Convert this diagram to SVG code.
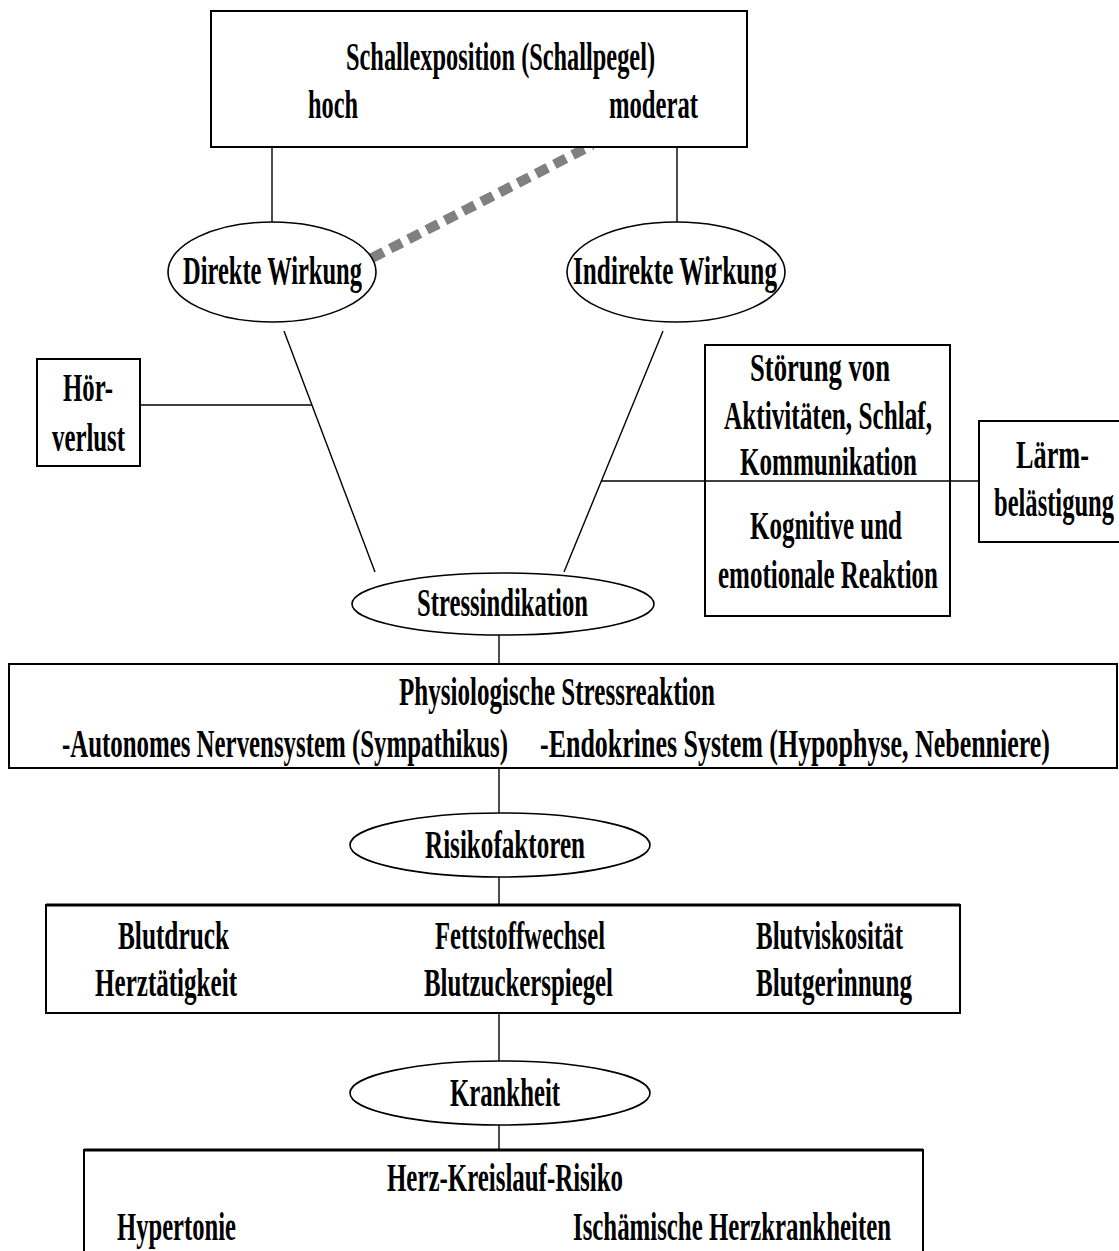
<svg xmlns="http://www.w3.org/2000/svg" width="1119" height="1251" viewBox="0 0 1119 1251">
  <style>
    .box { fill: #ffffff; stroke: #000000; stroke-width: 2; }
    .ell { fill: #ffffff; stroke: #000000; stroke-width: 1.6; }
    .ln { fill: none; stroke: #000000; stroke-width: 1.4; }
    .dash { fill: none; stroke: #808080; stroke-width: 10; stroke-dasharray: 13 7.5; }
    .t { font-family: "Liberation Serif", "Times New Roman", serif; font-weight: bold; font-size: 39px; fill: #000000; text-anchor: middle; }
  </style>
  <rect width="1119" height="1251" fill="#ffffff"/>

  <!-- connectors -->
  <g id="connectors">
    <line class="ln" x1="272" y1="147" x2="272" y2="222"/>
    <line class="ln" x1="677" y1="147" x2="677" y2="222"/>
    <line class="dash" x1="372" y1="258" x2="592" y2="145"/>
    <line class="ln" x1="284" y1="331" x2="375" y2="572"/>
    <line class="ln" x1="663" y1="331" x2="564" y2="572"/>
    <line class="ln" x1="140" y1="405" x2="312" y2="405"/>
    <line class="ln" x1="601" y1="481" x2="979" y2="481"/>
    <line class="ln" x1="499" y1="635" x2="499" y2="664"/>
    <line class="ln" x1="499" y1="768" x2="499" y2="813"/>
    <line class="ln" x1="499" y1="877" x2="499" y2="905"/>
    <line class="ln" x1="499" y1="1013" x2="499" y2="1061"/>
    <line class="ln" x1="499" y1="1125" x2="499" y2="1150"/>
  </g>

  <!-- sound exposure -->
  <g id="schallexposition">
    <rect class="box" x="211" y="11" width="536" height="136"/>
    <text class="t" x="500.5" y="70" textLength="309" lengthAdjust="spacingAndGlyphs">Schallexposition (Schallpegel)</text>
    <text class="t" x="333" y="118" textLength="50" lengthAdjust="spacingAndGlyphs">hoch</text>
    <text class="t" x="653.5" y="118" textLength="89" lengthAdjust="spacingAndGlyphs">moderat</text>
  </g>

  <g id="direkte-wirkung">
    <ellipse class="ell" cx="272" cy="272" rx="104" ry="50"/>
    <text class="t" x="272.5" y="284" textLength="179" lengthAdjust="spacingAndGlyphs">Direkte Wirkung</text>
  </g>

  <g id="indirekte-wirkung">
    <ellipse class="ell" cx="676" cy="272" rx="109" ry="50"/>
    <text class="t" x="675" y="284" textLength="204" lengthAdjust="spacingAndGlyphs">Indirekte Wirkung</text>
  </g>

  <g id="hoerverlust">
    <rect class="box" x="37" y="359" width="103" height="107"/>
    <text class="t" x="88" y="401" textLength="50" lengthAdjust="spacingAndGlyphs">Hör-</text>
    <text class="t" x="88.5" y="451" textLength="73" lengthAdjust="spacingAndGlyphs">verlust</text>
  </g>

  <g id="stoerung">
    <rect class="box" x="705" y="345" width="245" height="271" style="fill:none"/>
    <text class="t" x="820" y="381" textLength="140" lengthAdjust="spacingAndGlyphs">Störung von</text>
    <text class="t" x="828" y="429" textLength="208" lengthAdjust="spacingAndGlyphs">Aktivitäten, Schlaf,</text>
    <text class="t" x="828.5" y="475" textLength="177" lengthAdjust="spacingAndGlyphs">Kommunikation</text>
    <text class="t" x="826" y="539" textLength="152" lengthAdjust="spacingAndGlyphs">Kognitive und</text>
    <text class="t" x="828" y="588" textLength="220" lengthAdjust="spacingAndGlyphs">emotionale Reaktion</text>
  </g>

  <g id="laermbelaestigung">
    <rect class="box" x="979" y="421" width="150" height="121"/>
    <text class="t" x="1052.5" y="468" textLength="73" lengthAdjust="spacingAndGlyphs">Lärm-</text>
    <text class="t" x="1054" y="516" textLength="120" lengthAdjust="spacingAndGlyphs">belästigung</text>
  </g>

  <g id="stressindikation">
    <ellipse class="ell" cx="503" cy="604" rx="151" ry="31"/>
    <text class="t" x="502.5" y="616" textLength="171" lengthAdjust="spacingAndGlyphs">Stressindikation</text>
  </g>

  <g id="physiologische-stressreaktion">
    <rect class="box" x="9" y="664" width="1108" height="104"/>
    <text class="t" x="557" y="705" textLength="316" lengthAdjust="spacingAndGlyphs">Physiologische Stressreaktion</text>
    <text class="t" x="285" y="757" textLength="446" lengthAdjust="spacingAndGlyphs">-Autonomes Nervensystem (Sympathikus)</text>
    <text class="t" x="795" y="757" textLength="510" lengthAdjust="spacingAndGlyphs">-Endokrines System (Hypophyse, Nebenniere)</text>
  </g>

  <g id="risikofaktoren">
    <ellipse class="ell" cx="500" cy="845" rx="150" ry="32"/>
    <text class="t" x="505" y="858" textLength="160" lengthAdjust="spacingAndGlyphs">Risikofaktoren</text>
  </g>

  <g id="faktoren">
    <rect class="box" x="46" y="905" width="914" height="108"/>
    <line x1="46" y1="905" x2="960" y2="905" stroke="#000000" stroke-width="3"/>
    <text class="t" x="173.5" y="949" textLength="111" lengthAdjust="spacingAndGlyphs">Blutdruck</text>
    <text class="t" x="166" y="996" textLength="142" lengthAdjust="spacingAndGlyphs">Herztätigkeit</text>
    <text class="t" x="520" y="949" textLength="170" lengthAdjust="spacingAndGlyphs">Fettstoffwechsel</text>
    <text class="t" x="518.5" y="996" textLength="189" lengthAdjust="spacingAndGlyphs">Blutzuckerspiegel</text>
    <text class="t" x="829.5" y="949" textLength="147" lengthAdjust="spacingAndGlyphs">Blutviskosität</text>
    <text class="t" x="834" y="996" textLength="156" lengthAdjust="spacingAndGlyphs">Blutgerinnung</text>
  </g>

  <g id="krankheit">
    <ellipse class="ell" cx="500" cy="1093" rx="150" ry="32"/>
    <text class="t" x="505" y="1106" textLength="110" lengthAdjust="spacingAndGlyphs">Krankheit</text>
  </g>

  <g id="herz-kreislauf-risiko">
    <rect class="box" x="84" y="1150" width="839" height="120"/>
    <line x1="84" y1="1150" x2="923" y2="1150" stroke="#000000" stroke-width="3"/>
    <text class="t" x="505" y="1191" textLength="236" lengthAdjust="spacingAndGlyphs">Herz-Kreislauf-Risiko</text>
    <text class="t" x="176.5" y="1240" textLength="119" lengthAdjust="spacingAndGlyphs">Hypertonie</text>
    <text class="t" x="732" y="1240" textLength="318" lengthAdjust="spacingAndGlyphs">Ischämische Herzkrankheiten</text>
  </g>
</svg>
